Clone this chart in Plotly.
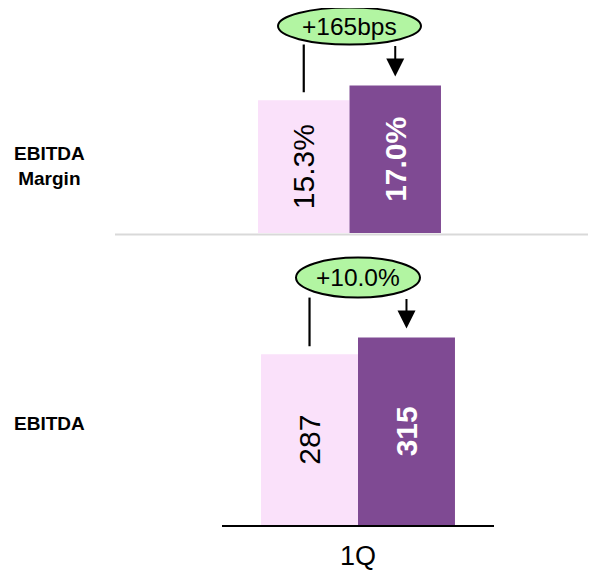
import plotly.graph_objects as go

# ---------------- data ----------------
categories = ["1Q"]
margin_prior = [15.3]
margin_current = [17.0]
ebitda_prior = [287]
ebitda_current = [315]
change_labels = ["+165bps", "+10.0%"]
row_labels = ["EBITDA<br>Margin", "EBITDA"]

# ---------------- layout constants (pixels in the 596x573 window) ----------------
PAGE_OFF = 8            # browser body margin
W, H = 596 - PAGE_OFF, 573 - PAGE_OFF
LIGHT = "#FAE1FA"
DARK = "#7F4A93"
GREEN = "#B2F5A2"
FONT = "Liberation Sans, Arial, sans-serif"
BARGAP = 0.287


def px_x(x):
    return (x - PAGE_OFF) / W


def px_y(y):
    return 1 - (y - PAGE_OFF) / H


# panel geometry: x domain (window px), bar base px, domain top px, px per unit,
# ellipse width px, ellipse offsets above current bar (px)
top_panel = dict(x0=221.2, x1=477.8, yb=233.0, yt=8.0, ppu=8.67, ew=143, eb=41, et=78)
bot_panel = dict(x0=222.0, x1=494.0, yb=525.0, yt=250.0, ppu=0.595, ew=124, eb=40, et=80)


def xdom(p):
    return [px_x(p["x0"]), px_x(p["x1"])]


def ydom(p):
    return [px_y(p["yb"]), px_y(p["yt"])]


def ymax(p):
    return (p["yb"] - p["yt"]) / p["ppu"]


fig = go.Figure()

bar_common = dict(textposition="inside", insidetextanchor="middle", textangle=-90,
                  cliponaxis=False, showlegend=False, hoverinfo="skip")

fig.add_trace(go.Bar(x=categories, y=margin_prior, marker=dict(color=LIGHT, line=dict(width=0)),
                     texttemplate="%{y:.1f}%", textfont=dict(size=30, color="black", family=FONT),
                     xaxis="x", yaxis="y", **bar_common))
fig.add_trace(go.Bar(x=categories, y=margin_current, marker=dict(color=DARK, line=dict(width=0)),
                     texttemplate="%{y:.1f}%", textfont=dict(size=30, color="white", family=FONT, weight="bold"),
                     xaxis="x", yaxis="y", **bar_common))
fig.add_trace(go.Bar(x=categories, y=ebitda_prior, marker=dict(color=LIGHT, line=dict(width=0)),
                     texttemplate="%{y}", textfont=dict(size=30, color="black", family=FONT),
                     xaxis="x2", yaxis="y2", **bar_common))
fig.add_trace(go.Bar(x=categories, y=ebitda_current, marker=dict(color=DARK, line=dict(width=0)),
                     texttemplate="%{y}", textfont=dict(size=30, color="white", family=FONT, weight="bold"),
                     xaxis="x2", yaxis="y2", **bar_common))

fig.update_layout(
    width=W, height=H, autosize=False,
    margin=dict(l=0, r=0, t=0, b=0, pad=0),
    paper_bgcolor="white", plot_bgcolor="rgba(0,0,0,0)",
    barmode="group", bargap=BARGAP, bargroupgap=0,
    font=dict(family=FONT, color="black"),
    xaxis=dict(domain=xdom(top_panel), anchor="y", range=[-0.5, 0.5], type="category",
               showticklabels=False, showline=False, showgrid=False, zeroline=False, ticks=""),
    yaxis=dict(domain=ydom(top_panel), anchor="x", range=[0, ymax(top_panel)],
               visible=False, showgrid=False, zeroline=False),
    xaxis2=dict(domain=xdom(bot_panel), anchor="y2", range=[-0.5, 0.5], type="category",
                showline=True, linecolor="black", linewidth=2, showgrid=False, zeroline=False,
                ticks="", tickfont=dict(size=27, color="black", family=FONT), ticklabelstandoff=6),
    yaxis2=dict(domain=ydom(bot_panel), anchor="x2", range=[0, ymax(bot_panel)],
                visible=False, showgrid=False, zeroline=False),
)

# bar centre offsets within the category (category units)
off = (1 - BARGAP) / 4

shapes = []
annotations = []
panels = [
    (top_panel, "x", "y", margin_prior[0], margin_current[0], change_labels[0]),
    (bot_panel, "x2", "y2", ebitda_prior[0], ebitda_current[0], change_labels[1]),
]
for p, xr, yr, prior, cur, lab in panels:
    xunit = p["x1"] - p["x0"]          # px per category unit
    yunit = p["ppu"]                   # px per value unit
    half_w = p["ew"] / 2 / xunit
    e_bot = cur + p["eb"] / yunit
    e_top = cur + p["et"] / yunit
    # ellipse with change label
    shapes.append(dict(type="circle", xref=xr, yref=yr, x0=-half_w, x1=half_w, y0=e_bot, y1=e_top,
                       fillcolor=GREEN, line=dict(color="black", width=2), layer="above"))
    annotations.append(dict(x=0, y=(e_bot + e_top) / 2, xref=xr, yref=yr, text=lab, showarrow=False,
                            font=dict(size=24.5, color="black", family=FONT),
                            xanchor="center", yanchor="middle"))
    # left connector line above prior bar
    shapes.append(dict(type="line", xref=xr, yref=yr, x0=-off, x1=-off,
                       y0=prior + 8 / yunit, y1=e_bot, line=dict(color="black", width=2.2)))
    # arrow down to current bar
    annotations.append(dict(x=off, y=cur, xref=xr, yref=yr, ax=off, ay=e_bot, axref=xr, ayref=yr,
                            text="", showarrow=True, arrowhead=2, arrowsize=1.8, arrowwidth=2,
                            arrowcolor="black", standoff=9))

# separator line between panels
shapes.append(dict(type="line", xref="paper", yref="paper", x0=px_x(115), x1=1,
                   y0=px_y(234.5), y1=px_y(234.5), line=dict(color="#D9D9D9", width=2)))

# row labels
for lab, ypx in zip(row_labels, [166, 423]):
    annotations.append(dict(x=px_x(49), y=px_y(ypx), xref="paper", yref="paper", text="<b>" + lab + "</b>",
                            showarrow=False, align="center", xanchor="center", yanchor="middle",
                            font=dict(size=19, color="black", family=FONT)))

fig.update_layout(shapes=shapes, annotations=annotations)
fig.write_html("out.html")
